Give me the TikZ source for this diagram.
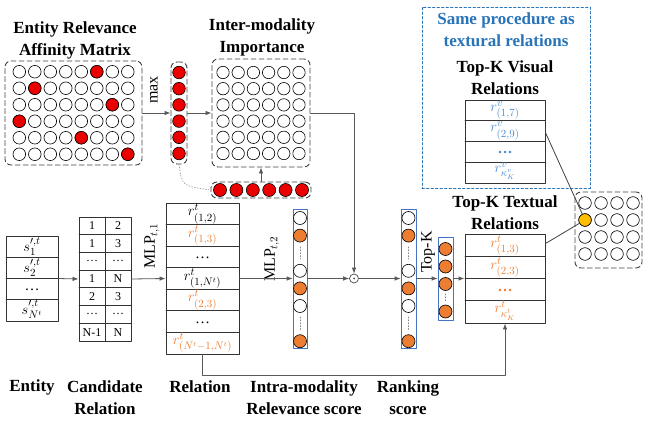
\documentclass[tikz,border=0pt]{standalone}
\usepackage{amsmath}
\usepackage{fontspec}
\setmainfont{Liberation Serif}
\usepackage{tikz}
\definecolor{red}{rgb}{0.92,0,0}
\definecolor{orange}{rgb}{0.93,0.49,0.19}
\definecolor{blue}{rgb}{0.16,0.45,0.72}
\definecolor{lightblue}{rgb}{0.30,0.55,0.82}
\definecolor{frame}{rgb}{0.27,0.45,0.77}
\definecolor{yellow}{rgb}{1,0.75,0}
\usepackage{xcolor}
\usetikzlibrary{arrows.meta}

\begin{document}
\begin{tikzpicture}[x=1pt, y=-1pt, line cap=round, line join=round,
	title/.style={font=\fontsize{17}{22}\selectfont\bfseries, align=center, inner sep=0},
	lbl/.style={font=\fontsize{16}{18}\selectfont, inner sep=0},
	cell/.style={font=\fontsize{12}{14}\selectfont, inner sep=0},
	ent/.style={font=\fontsize{15}{17}\selectfont, inner sep=0},
	dashbox/.style={draw=black!75, dash pattern=on 5pt off 3pt, rounded corners=6pt, line width=0.9pt},
	tbl/.style={draw=black!80, line width=0.9pt},
	scorecol/.style={draw=frame, line width=0.7pt, inner sep=0},
	conn/.style={draw=black!65, line width=0.8pt},
	arr/.style={conn, -{Latex[length=6pt,width=4.5pt]}}]
	\useasboundingbox (0,0) rectangle (650,425);
	% affinity matrix
	\node[title] (affT) at (75,40) {Entity Relevance\\Affinity Matrix};
	\node[dashbox, minimum width=137pt, minimum height=104pt] (aff) at (73.5,113) {};
	\foreach \i in {0,...,7}
		\foreach \j in {0,...,5}
			\draw [fill=white, line width=0.6pt] (19.3+15.5*\i,71.75+16.5*\j) circle (6.3pt);
	\draw [fill=red, line width=0.6pt] (96.8,71.75) circle (6.3pt);
	\draw [fill=red, line width=0.6pt] (34.8,88.25) circle (6.3pt);
	\draw [fill=red, line width=0.6pt] (112.3,104.75) circle (6.3pt);
	\draw [fill=red, line width=0.6pt] (19.3,121.25) circle (6.3pt);
	\draw [fill=red, line width=0.6pt] (81.3,137.75) circle (6.3pt);
	\draw [fill=red, line width=0.6pt] (127.8,154.25) circle (6.3pt);
	% max column
	\node[lbl, rotate=90] (maxT) at (154,90) {max};
	\node[dashbox, minimum width=16pt, minimum height=102pt] (rcol) at (179,113) {};
	\foreach \k in {0,...,5}
		\draw [fill=red, line width=0.6pt] (179,72.5+16.2*\k) circle (6.3pt);
	% inter-modality importance
	\node[title] (impT) at (262,37.5) {Inter-modality\\Importance};
	\node[dashbox, minimum width=98pt, minimum height=108pt] (imp) at (261,113) {};
	\foreach \i in {0,...,5}
		\foreach \j in {0,...,5}
			\draw [fill=white, line width=0.6pt] (223+15.2*\i,72.5+16.2*\j) circle (6.2pt);
	\node[dashbox, minimum width=100pt, minimum height=16pt] (rrow) at (261,190) {};
	\foreach \i in {0,...,5}
		\draw [fill=red, line width=0.6pt] (220+16.4*\i,190) circle (6.5pt);
	\draw[arr] (aff.east) -- (rcol.west);
	\draw[arr] (rcol.east) -- (imp.west);
	\draw[arr] (rrow.north) -- (imp.south);
	\draw[black!40, dotted, line width=0.8pt] (rcol.south) .. controls (182,186) .. (rrow.west);
	% entity
	\node[tbl, minimum width=52pt, minimum height=85pt] (ent) at (32,278.5) {};
	\foreach \y in {257.25,278.5,299.75}
		\draw[tbl] (6,\y) -- (58,\y);
	\node[ent] (s1) at (32,246.5) {$s_1^{\prime,t}$};
	\node[ent] (s2) at (32,267.5) {$s_2^{\prime,t}$};
	\node[ent] (s3) at (32,290) {\ldots};
	\node[ent] (s4) at (32,309.5) {$s_{N^t}^{\prime,t}$};
	% candidate relation
	\node[tbl, minimum width=52pt, minimum height=124pt] (cand) at (105,279) {};
	\draw[tbl] (105,217) -- (105,341);
	\foreach \k in {1,...,6}
		\draw[tbl] (79,217+17.71*\k) -- (131,217+17.71*\k);
	\foreach \a/\b [count=\k from 0] in {1/2,1/3,\ldots/\ldots,1/N,2/3,\ldots/\ldots,N-1/N} {
		\node[cell] (ca\k) at (92,225.9+17.71*\k) {\a};
		\node[cell] (cb\k) at (118,225.9+17.71*\k) {\b};
	}
	\node[lbl, rotate=90] (mlp1) at (152,246) {$\mathrm{MLP}_{t,1}$};
	% relation
	\node[tbl, minimum width=73pt, minimum height=151pt] (rel) at (202.5,278.5) {};
	\foreach \k in {1,...,6}
		\draw[tbl] (166,203+21.57*\k) -- (239,203+21.57*\k);
	\node[ent] (r1) at (202.5,214) {$r^t_{(1,2)}$};
	\node[ent, text=orange] (r2) at (202.5,235.5) {$r^t_{(1,3)}$};
	\node[ent] (r3) at (202.5,258) {\ldots};
	\node[ent] (r4) at (202.5,278.5) {$r^t_{(1,N^t)}$};
	\node[ent, text=orange] (r5) at (202.5,300) {$r^t_{(2,3)}$};
	\node[ent] (r6) at (202.5,322.5) {\ldots};
	\node[ent, text=orange] (r7) at (202.5,342.5) {$r^t_{(N^t-1,N^t)}$};
	\node[lbl, rotate=90] (mlp2) at (272,259) {$\mathrm{MLP}_{t,2}$};
	% intra-modality relevance score
	\node[scorecol, minimum width=14pt, minimum height=139pt] (intra) at (300,278.5) {};
	\foreach \y/\c in {218/white,235.6/orange,270.8/white,288.4/orange,306/white,341.2/orange}
		\draw [fill=\c, line width=0.6pt] (300,\y) circle (6.5pt);
	\draw[black!50, dotted, line width=0.9pt] (300,247) -- (300,259);
	\draw[black!50, dotted, line width=0.9pt] (300,317) -- (300,330);
	\node[circle, draw=black!70, line width=0.7pt, minimum size=9pt, inner sep=0] (dot) at (354,278.5) {};
	\fill[black!70] (dot) circle (1pt);
	% ranking score
	\node[scorecol, minimum width=15pt, minimum height=139pt] (rank) at (408.5,278.5) {};
	\foreach \y/\c in {218/white,235.6/orange,270.8/white,288.4/orange,306/white,341.2/orange}
		\draw [fill=\c, line width=0.6pt] (408.5,\y) circle (6.5pt);
	\draw[black!50, dotted, line width=0.9pt] (408.5,247) -- (408.5,259);
	\draw[black!50, dotted, line width=0.9pt] (408.5,317) -- (408.5,330);
	\node[lbl, rotate=90] (topkT) at (428,252) {Top-K};
	\node[scorecol, minimum width=15pt, minimum height=83pt] (topk) at (445.5,278.5) {};
	\foreach \y in {249,266.5,284,311.5}
		\draw [fill=orange, line width=0.6pt] (445.5,\y) circle (6.5pt);
	\draw[black!50, dotted, line width=0.9pt] (445.5,294) -- (445.5,302);
	% visual relations
	\node[draw=blue, dash pattern=on 2.5pt off 2pt, line width=0.8pt, minimum width=168pt, minimum height=181pt] (same) at (506,97.5) {};
	\node[title, text=blue] (sameT) at (506,30) {Same procedure as\\textural relations};
	\node[title] (visT) at (505,78) {Top-K Visual\\Relations};
	\node[tbl, minimum width=80pt, minimum height=83pt] (vis) at (505,141.5) {};
	\foreach \y in {120.75,141.5,162.25}
		\draw[tbl] (465,\y) -- (545,\y);
	\node[ent, text=lightblue] (v1) at (505,110.5) {$r^v_{(1,7)}$};
	\node[ent, text=lightblue] (v2) at (505,131) {$r^v_{(2,9)}$};
	\node[ent, text=lightblue] (v3) at (505,152) {\textbf{\ldots}};
	\node[ent, text=lightblue] (v4) at (505,171) {$r^v_{\kappa_K^v}$};
	% textual relations
	\node[title] (txtT) at (505,213) {Top-K Textual\\Relations};
	\node[tbl, minimum width=80pt, minimum height=89pt] (txt) at (505,278.5) {};
	\foreach \y in {256.25,278.5,300.75}
		\draw[tbl] (465,\y) -- (545,\y);
	\node[ent, text=orange] (t1) at (505,245.5) {$r^t_{(1,3)}$};
	\node[ent, text=orange] (t2) at (505,267.5) {$r^t_{(2,3)}$};
	\node[ent, text=orange] (t3) at (505,290) {\textbf{\ldots}};
	\node[ent, text=orange] (t4) at (505,310.5) {$r^t_{\kappa_K^t}$};
	% joint matrix
	\node[dashbox, minimum width=67pt, minimum height=76pt] (joint) at (608.5,230) {};
	\foreach \i in {0,...,3}
		\foreach \j in {0,...,3}
			\draw [fill=white, line width=0.6pt] (585+16*\i,203+17*\j) circle (6.3pt);
	\node[circle, draw, fill=yellow, line width=0.6pt, minimum size=12.6pt, inner sep=0] (yel) at (585,220) {};
	\draw[conn, black!75] ([yshift=-33pt]vis.north east) -- (yel);
	\draw[conn, black!75] ([yshift=-10pt]txt.north east) -- (yel);
	% main flow
	\draw[arr] (ent.east) -- (cand.west);
	\draw[arr] (cand.east) -- (rel.west);
	\draw[arr] (rel.east) -- (intra.west);
	\draw[arr] (intra.east) -- (dot.west);
	\draw[arr] (imp.east) -| (dot.north);
	\draw[arr] (dot.east) -- (rank.west);
	\draw[arr] (rank.east) -- (topk.west);
	\draw[arr] (topk.east) -- (txt.west);
	\draw[arr] (rel.south) -- ++(0,21) -| (txt.south);
	% bottom labels
	\node[title] (entT) at (32,387) {Entity};
	\node[title] (candT) at (105,397.5) {Candidate\\Relation};
	\node[title] (relT) at (200,387) {Relation};
	\node[title] (intraT) at (304,397.5) {Intra-modality\\Relevance score};
	\node[title] (rankT) at (408,397.5) {Ranking\\score};
\end{tikzpicture}
\end{document}
